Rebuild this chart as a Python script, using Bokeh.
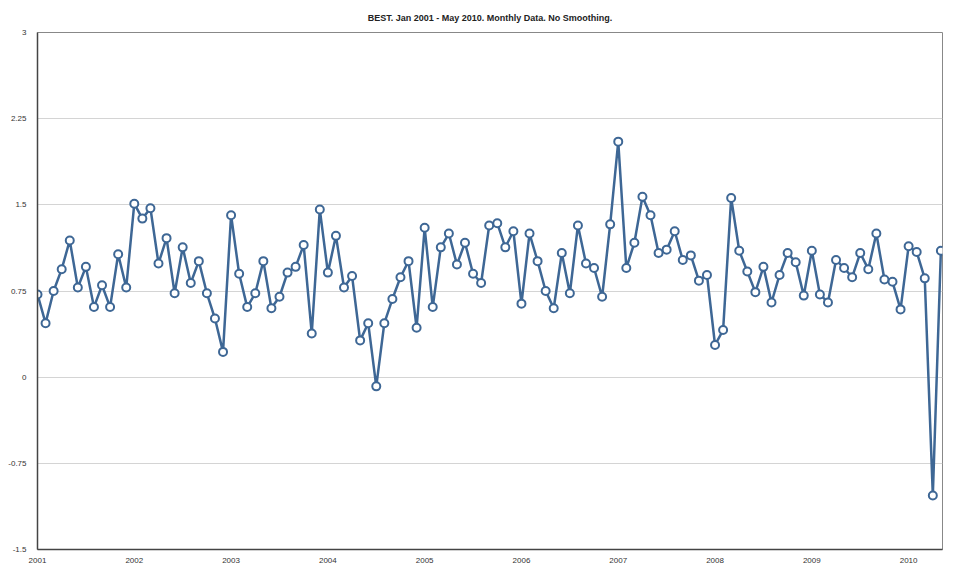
from bokeh.plotting import figure
from bokeh.models import FixedTicker, CustomJSTickFormatter, Range1d
from bokeh.embed import file_html
from bokeh.resources import INLINE

# monthly values, Jan 2001 - May 2010
y2001 = [0.72, 0.47, 0.75, 0.94, 1.19, 0.78, 0.96, 0.61, 0.80, 0.61, 1.07, 0.78]
y2002 = [1.51, 1.38, 1.47, 0.99, 1.21, 0.73, 1.13, 0.82, 1.01, 0.73, 0.51, 0.22]
y2003 = [1.41, 0.90, 0.61, 0.73, 1.01, 0.60, 0.70, 0.91, 0.96, 1.15, 0.38, 1.46]
y2004 = [0.91, 1.23, 0.78, 0.88, 0.32, 0.47, -0.08, 0.47, 0.68, 0.87, 1.01, 0.43]
y2005 = [1.30, 0.61, 1.13, 1.25, 0.98, 1.17, 0.90, 0.82, 1.32, 1.34, 1.13, 1.27]
y2006 = [0.64, 1.25, 1.01, 0.75, 0.60, 1.08, 0.73, 1.32, 0.99, 0.95, 0.70, 1.33]
y2007 = [2.05, 0.95, 1.17, 1.57, 1.41, 1.08, 1.11, 1.27, 1.02, 1.06, 0.84, 0.89]
y2008 = [0.28, 0.41, 1.56, 1.10, 0.92, 0.74, 0.96, 0.65, 0.89, 1.08, 1.00, 0.71]
y2009 = [1.10, 0.72, 0.65, 1.02, 0.95, 0.87, 1.08, 0.94, 1.25, 0.85, 0.83, 0.59]
y2010 = [1.14, 1.09, 0.86, -1.03, 1.10]

year_labels = ["2001", "2002", "2003", "2004", "2005", "2006", "2007", "2008", "2009", "2010"]
y_ticks = [-1.5, -0.75, 0, 0.75, 1.5, 2.25, 3]

values = y2001 + y2002 + y2003 + y2004 + y2005 + y2006 + y2007 + y2008 + y2009 + y2010
months = list(range(len(values)))

blue = "#3e6795"

p = figure(width=973, height=584, output_backend="svg", toolbar_location=None,
           title="BEST. Jan 2001 - May 2010. Monthly Data. No Smoothing.",
           min_border_left=37, min_border_right=31, min_border_top=32, min_border_bottom=35)
p.x_range = Range1d(0, 112.2)
p.y_range = Range1d(-1.5, 3)

p.title.align = "center"
p.title.text_font = "Liberation Sans"
p.title.text_font_size = "9px"
p.title.text_font_style = "bold"
p.title.text_color = "#222222"
p.title.standoff = 19

p.line(months, values, line_color=blue, line_width=2.5)
p.scatter(months, values, size=8, fill_color="white", line_color=blue, line_width=2)

p.yaxis.ticker = FixedTicker(ticks=y_ticks)
p.yaxis.formatter = CustomJSTickFormatter(code="return tick.toString()")
p.xaxis.ticker = FixedTicker(ticks=[12 * i for i in range(len(year_labels))])
p.xaxis.formatter = CustomJSTickFormatter(args=dict(labels=year_labels),
                                          code="return labels[Math.round(tick / 12)]")

for ax in (p.xaxis, p.yaxis):
    ax.major_tick_line_color = None
    ax.minor_tick_line_color = None
    ax.axis_line_color = "#444444"
    ax.axis_line_width = 1.5
    ax.major_label_text_font = "Liberation Sans"
    ax.major_label_text_font_size = "8px"
    ax.major_label_text_color = "#333333"
p.yaxis.major_label_standoff = 5
p.xaxis.major_label_standoff = 2

p.xgrid.grid_line_color = None
p.ygrid.grid_line_color = "#d4d4d4"
p.ygrid.grid_line_width = 1
p.outline_line_color = "#888888"
p.outline_line_width = 1

open("out.html", "w").write(file_html(p, INLINE))
